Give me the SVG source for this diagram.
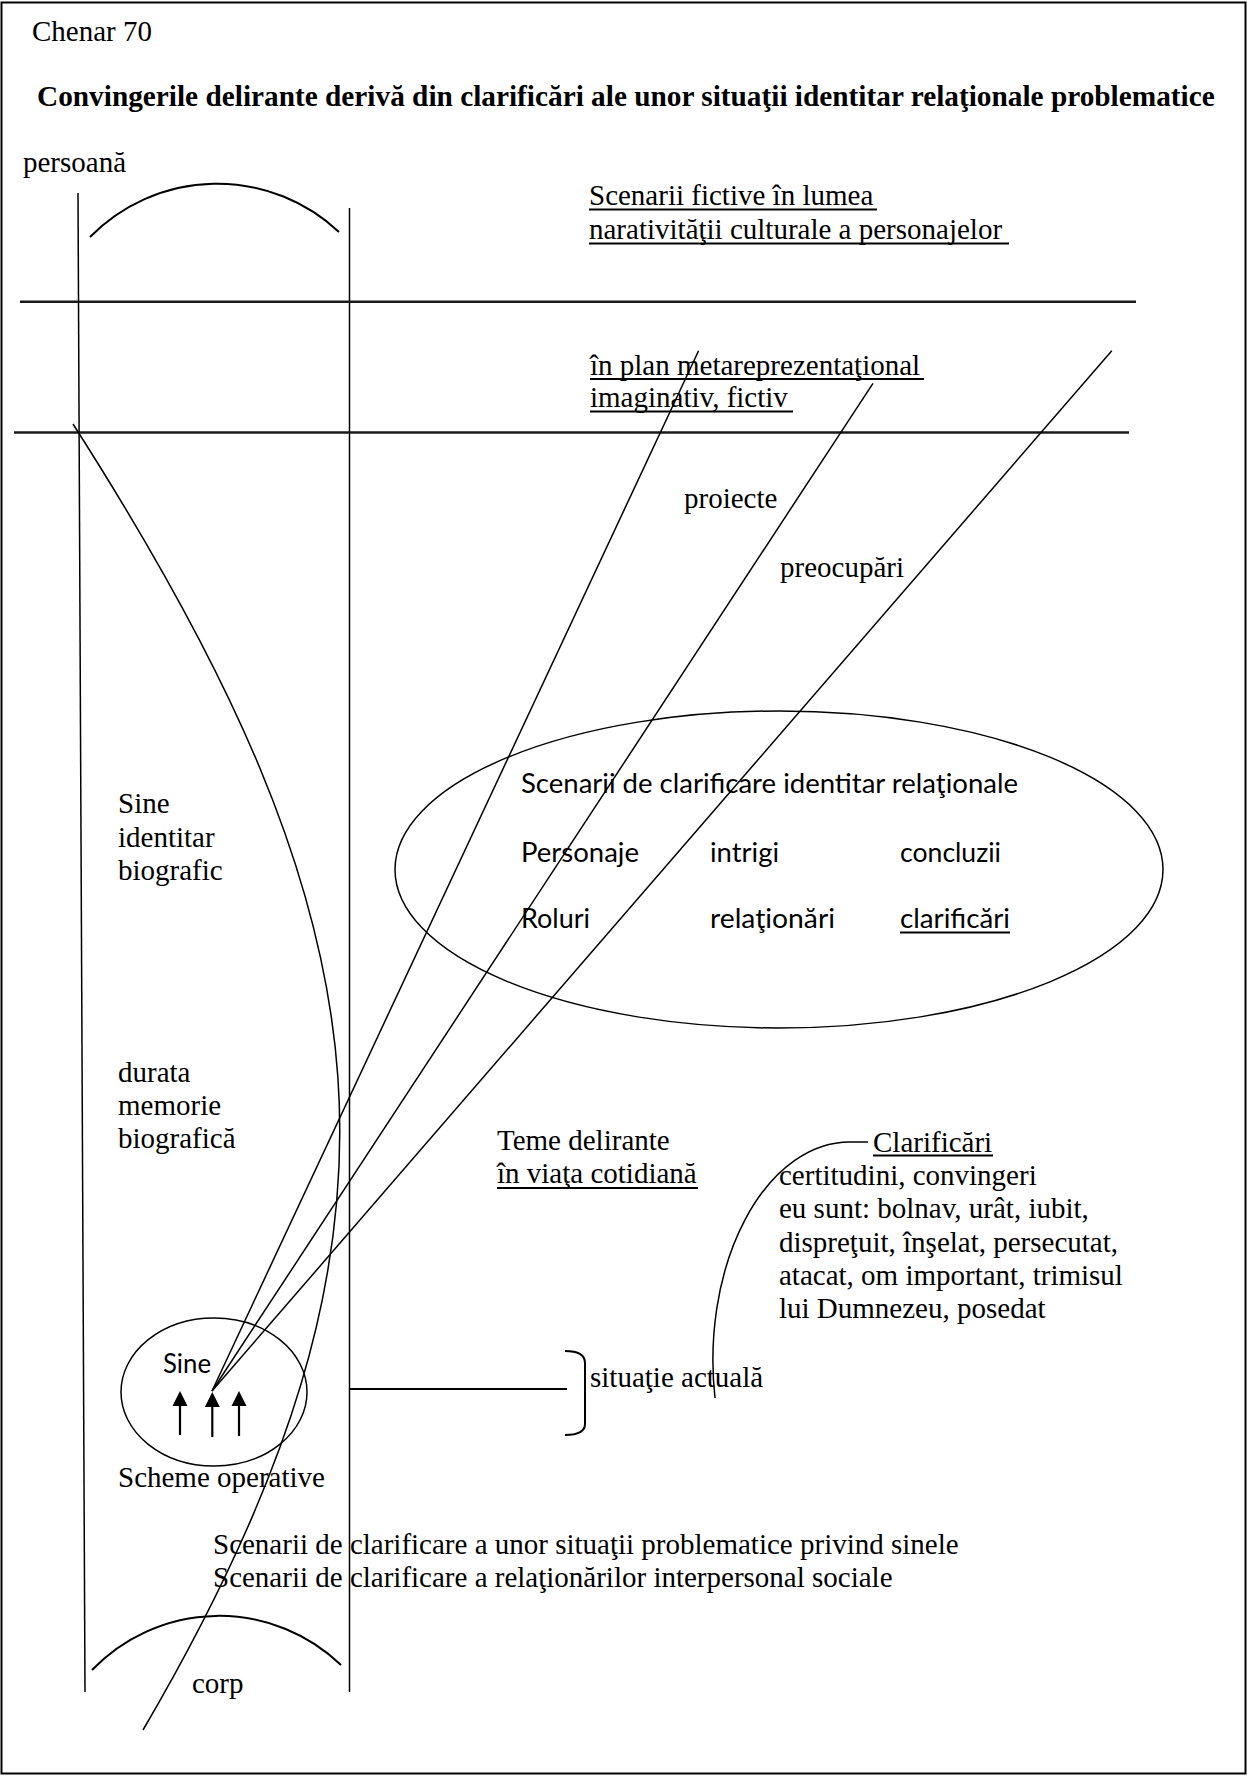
<svg xmlns="http://www.w3.org/2000/svg" width="1247" height="1777" viewBox="0 0 1247 1777">
<style>
.s{font-family:"Liberation Serif","Times New Roman",serif;font-size:29px;fill:#000}
.b{font-weight:bold;font-size:29.3px}
.c{font-family:Lato,"Liberation Sans",sans-serif;font-size:27px;fill:#000}
.ul{stroke:#000;stroke-width:2;fill:none}
.ln{stroke:#000;stroke-width:1.5;fill:none}
.th{stroke:#000;stroke-width:2;fill:none}
.hz{stroke:#1a1a1a;stroke-width:2.6;fill:none}
</style>
<rect x="1.5" y="2.5" width="1244" height="1771" fill="#fff" stroke="#000" stroke-width="2"/>

<g id="header">
<text class="s" x="32" y="41">Chenar 70</text>
<text class="s b" x="37" y="106">Convingerile delirante derivă din clarificări ale unor situaţii identitar relaţionale problematice</text>
</g>

<g id="persoana-column">
<text class="s" x="23" y="172">persoană</text>
<line class="ln" x1="78" y1="193" x2="85" y2="1692"/>
<line class="ln" x1="349.5" y1="208" x2="349.5" y2="1692"/>
<path class="th" d="M90 237 A178 178 0 0 1 339 232"/>
<path class="th" d="M92 1670 A176 176 0 0 1 341 1665"/>
<text class="s" x="192" y="1693">corp</text>
</g>

<g id="planes">
<line class="hz" x1="20" y1="301.7" x2="1136" y2="301.7"/>
<line class="hz" x1="14" y1="432.5" x2="1129" y2="432.5"/>
<text class="s" x="589" y="205">Scenarii fictive în lumea</text>
<line class="ul" x1="589" y1="209.5" x2="877" y2="209.5"/>
<text class="s" x="589" y="239">narativităţii culturale a personajelor</text>
<line class="ul" x1="589" y1="243.5" x2="1009" y2="243.5"/>
<text class="s" x="590" y="375">în plan metareprezentaţional</text>
<line class="ul" x1="590" y1="379" x2="924" y2="379"/>
<text class="s" x="590" y="407">imaginativ, fictiv</text>
<line class="ul" x1="590" y1="411.5" x2="793" y2="411.5"/>
</g>

<g id="labels-rays">
<text class="s" x="684" y="508">proiecte</text>
<text class="s" x="780" y="577">preocupări</text>
</g>

<g id="sine-biografic">
<text class="s" x="118" y="813">Sine</text>
<text class="s" x="118" y="847">identitar</text>
<text class="s" x="118" y="880">biografic</text>
<text class="s" x="118" y="1082">durata</text>
<text class="s" x="118" y="1115">memorie</text>
<text class="s" x="118" y="1148">biografică</text>
</g>

<g id="scenarii-ellipse">
<ellipse class="ln" cx="779" cy="869.5" rx="384" ry="158.5"/>
<text class="c" x="521" y="793" textLength="497" lengthAdjust="spacingAndGlyphs">Scenarii de clarificare identitar relaţionale</text>
<text class="c" x="521" y="862" textLength="118" lengthAdjust="spacingAndGlyphs">Personaje</text>
<text class="c" x="710" y="862" textLength="69" lengthAdjust="spacingAndGlyphs">intrigi</text>
<text class="c" x="900" y="862" textLength="101" lengthAdjust="spacingAndGlyphs">concluzii</text>
<text class="c" x="521" y="928" textLength="69" lengthAdjust="spacingAndGlyphs">Roluri</text>
<text class="c" x="710" y="928" textLength="125" lengthAdjust="spacingAndGlyphs">relaţionări</text>
<text class="c" x="900" y="928" textLength="110" lengthAdjust="spacingAndGlyphs">clarificări</text>
<line class="ul" x1="900" y1="932.5" x2="1010" y2="932.5"/>
</g>

<g id="teme">
<text class="s" x="497" y="1150">Teme delirante</text>
<text class="s" x="497" y="1183">în viaţa cotidiană</text>
<line class="ul" x1="497" y1="1188" x2="698" y2="1188"/>
</g>

<g id="clarificari">
<path class="ln" d="M868 1142 L850 1142 A137 218 0 0 0 715 1398"/>
<text class="s" x="873" y="1152">Clarificări</text>
<line class="ul" x1="873" y1="1155.5" x2="993" y2="1155.5"/>
<text class="s" x="779" y="1185">certitudini, convingeri</text>
<text class="s" x="779" y="1218">eu sunt: bolnav, urât, iubit,</text>
<text class="s" x="779" y="1252">dispreţuit, înşelat, persecutat,</text>
<text class="s" x="779" y="1285">atacat, om important, trimisul</text>
<text class="s" x="779" y="1318">lui Dumnezeu, posedat</text>
</g>

<g id="sine-node">
<ellipse class="ln" cx="214" cy="1392" rx="93" ry="74"/>
<text class="c" x="163" y="1373" textLength="48" lengthAdjust="spacingAndGlyphs">Sine</text>
<text class="s" x="118" y="1487">Scheme operative</text>
</g>

<g id="situatie">
<path class="th" d="M565 1351 Q585 1351 585 1363 L585 1424 Q585 1435 565 1435"/>
<text class="s" x="590" y="1387">situaţie actuală</text>
</g>

<g id="bottom-text">
<text class="s" x="213" y="1554">Scenarii de clarificare a unor situaţii problematice privind sinele</text>
<text class="s" x="213" y="1587">Scenarii de clarificare a relaţionărilor interpersonal sociale</text>
</g>

<g id="connectors">
<path class="ln" d="M73 424 C393 924 436 1230 143 1730"/>
<line class="ln" x1="212" y1="1391" x2="698.6" y2="350.7"/>
<line class="ln" x1="212" y1="1391" x2="873" y2="383.3"/>
<line class="ln" x1="212" y1="1391" x2="1111.8" y2="350.7"/>
<line class="th" x1="349.5" y1="1389" x2="567" y2="1389"/>
<g stroke="#000" stroke-width="2.2" fill="#000">
<line x1="180" y1="1435" x2="180" y2="1404"/>
<path d="M172.5 1406 L180 1391 L187.5 1406 Z" stroke="none"/>
<line x1="212.3" y1="1437" x2="212.3" y2="1405"/>
<path d="M204.8 1407 L212.3 1392 L219.8 1407 Z" stroke="none"/>
<line x1="239" y1="1436" x2="239" y2="1404"/>
<path d="M231.5 1406 L239 1391 L246.5 1406 Z" stroke="none"/>
</g>
</g>
</svg>
